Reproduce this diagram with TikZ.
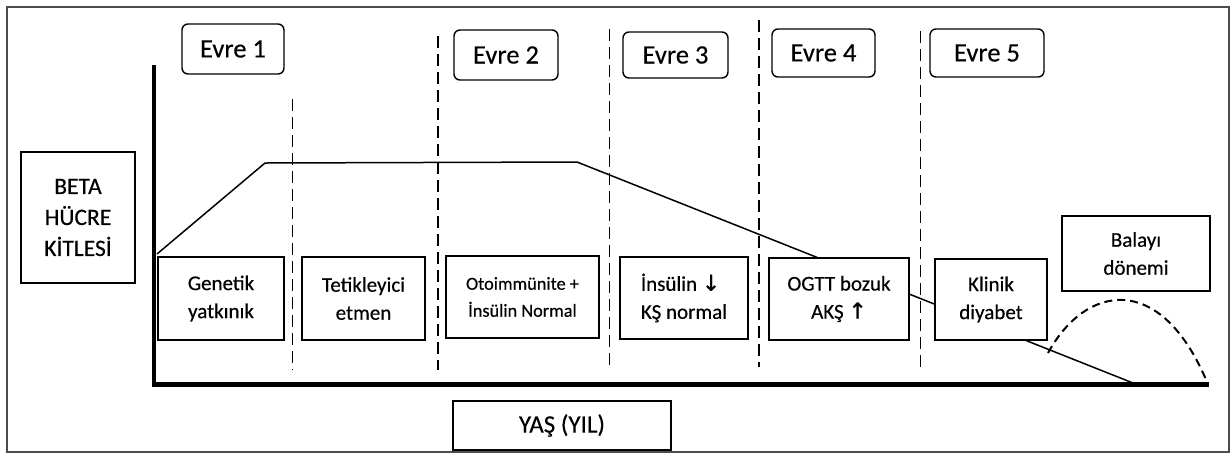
\documentclass[tikz,border=0pt]{standalone}
\usepackage{fontspec}
\setmainfont{Carlito}[FakeBold=0.35]
\newfontfamily\arrowfont{DejaVu Sans}[FakeBold=0.6]
\begin{document}
\begin{tikzpicture}[x=1pt,y=-1pt,
  box/.style={draw, line width=1.4pt, fill=white, inner sep=0pt, align=center},
  evre/.style={box, rounded corners=6pt, font=\fontsize{26.5}{30}\selectfont},
  inner/.style={box, font=\fontsize{21}{28}\selectfont},
  small/.style={box, font=\fontsize{18.3}{27}\selectfont},
  vdash/.style={line width=1.3pt, dash pattern=on 12pt off 6pt},
  axis/.style={line width=4.5pt},
  curve/.style={line width=1.5pt},
  hump/.style={line width=2pt, dash pattern=on 8pt off 5pt}]
\useasboundingbox (0,0) rectangle (1231,459);
\draw[black!70, line width=1.3pt] (7,7) rectangle (1229,452);

% axes
\coordinate (ytop) at (154,65);
\coordinate (ybot) at (154,386.5);
\coordinate (xbeg) at (152,384.5);
\coordinate (xend) at (1209,384.5);
\draw[axis] (ytop) -- (ybot);
\draw[axis] (xbeg) -- (xend);

% dashed stage separators
\coordinate (d1t) at (292.5,99);  \coordinate (d1b) at (292.5,370);
\coordinate (d2t) at (438,36);    \coordinate (d2b) at (438,370);
\coordinate (d3t) at (609.5,29);  \coordinate (d3b) at (609.5,367);
\coordinate (d4t) at (759,20);    \coordinate (d4b) at (759,367);
\coordinate (d5t) at (920.5,31);  \coordinate (d5b) at (920.5,367);
\draw[vdash] (d1t) -- (d1b);
\draw[vdash] (d2t) -- (d2b);
\draw[vdash] (d3t) -- (d3b);
\draw[vdash] (d4t) -- (d4b);
\draw[vdash] (d5t) -- (d5b);

% beta cell mass curve
\coordinate (c0) at (157,254);
\coordinate (c1) at (265,163);
\coordinate (c2) at (577,162);
\coordinate (c3) at (1133,383);
\draw[curve] (c0) -- (c1) -- (c2) -- (c3);

% honeymoon hump
\coordinate (h0) at (1048,353);
\coordinate (h1) at (1207,382);
\draw[hump] (h0) .. controls (1085,285) and (1160,270) .. (h1);

% y label
\node[box, font=\fontsize{23.5}{31}\selectfont, minimum width=114pt, minimum height=131pt] (beta) at (78,217.5) {BETA\\HÜCRE\\KİTLESİ};

% stage labels
\node[evre, minimum width=102pt, minimum height=50pt] (e1) at (233,49) {Evre 1};
\node[evre, minimum width=104pt, minimum height=50pt] (e2) at (506,55) {Evre 2};
\node[evre, minimum width=105pt, minimum height=46pt] (e3) at (675.5,55) {Evre 3};
\node[evre, minimum width=103pt, minimum height=48pt] (e4) at (823.5,53) {Evre 4};
\node[evre, minimum width=114pt, minimum height=48pt] (e5) at (987,53) {Evre 5};

% stage description boxes
\node[inner, minimum width=126pt, minimum height=83pt] (gen) at (221,298.5) {Genetik\\yatkınık};
\node[inner, minimum width=123pt, minimum height=83pt] (tet) at (363.5,298.5) {Tetikleyici\\etmen};
\node[small, minimum width=153pt, minimum height=82pt] (oto) at (522.5,297) {Otoimmünite +\\İnsülin Normal};
\node[inner, minimum width=128pt, minimum height=82pt] (ins) at (684,298) {};
\node[font=\fontsize{21}{28}\selectfont, align=left, inner sep=0pt] (inst) at (ins.center) {İnsülin {\arrowfont\fontsize{22}{28}\selectfont ↓}\\KŞ normal};
\node[inner, minimum width=140pt, minimum height=82pt] (ogtt) at (839,299) {OGTT bozuk\\AKŞ {\arrowfont\fontsize{22}{28}\selectfont ↑}};
\node[inner, minimum width=112pt, minimum height=81pt] (kli) at (991,299.5) {Klinik\\diyabet};
\node[inner, minimum width=148pt, minimum height=75pt] (bal) at (1136,253.5) {Balayı\\dönemi};

% x label
\node[box, font=\fontsize{25}{28}\selectfont, minimum width=218pt, minimum height=49pt] (yas) at (562,425.5) {YAŞ (YIL)};
\end{tikzpicture}
\end{document}
